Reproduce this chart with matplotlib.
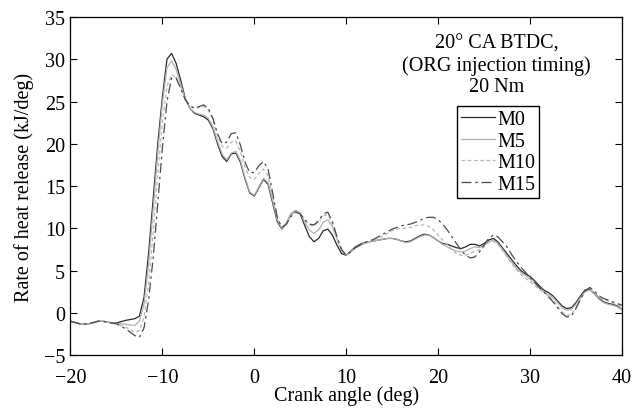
import numpy as np
import matplotlib
matplotlib.use('Agg')
import matplotlib.pyplot as plt

# Crank angle grid (deg), 0.5 deg step from -20 to 40
crank = np.arange(-20, 40.01, 0.5)

# Rate of heat release, kJ/deg
m0 = [-1.0, -1.15, -1.3, -1.35, -1.3, -1.15, -1.0, -1.0, -1.1, -1.2,
      -1.2, -1.05, -0.9, -0.8, -0.7, -0.4, 1.8, 7.0, 13.5, 20.0,
      25.5, 30.0, 30.7, 29.5, 27.5, 25.3, 24.2, 23.6, 23.4, 23.2,
      22.8, 21.8, 20.0, 18.5, 17.9, 18.8, 18.9, 17.8, 15.8, 14.2,
      13.8, 14.8, 15.8, 15.2, 13.0, 10.8, 9.9, 10.6, 11.7, 12.1,
      11.7, 10.3, 9.0, 8.4, 8.8, 9.7, 9.9, 9.2, 8.0, 7.0,
      6.8, 7.3, 7.8, 8.1, 8.3, 8.4, 8.5, 8.6, 8.7, 8.8,
      8.8, 8.7, 8.5, 8.4, 8.5, 8.8, 9.1, 9.3, 9.2, 8.9,
      8.5, 8.2, 8.1, 7.9, 7.7, 7.6, 7.8, 8.1, 8.1, 7.9,
      8.2, 8.6, 8.8, 8.4, 7.7, 7.0, 6.3, 5.6, 5.0, 4.6,
      4.3, 3.8, 3.2, 2.7, 2.4, 2.0, 1.4, 0.8, 0.5, 0.6,
      1.2, 2.0, 2.7, 2.8, 2.3, 1.7, 1.3, 1.1, 1.0, 0.8,
      0.4]

m5 = [-1.0, -1.15, -1.3, -1.35, -1.3, -1.15, -1.0, -1.0, -1.1, -1.2,
      -1.25, -1.3, -1.35, -1.45, -1.5, -1.0, 1.0, 5.8, 12.3, 19.0,
      24.8, 29.0, 29.8, 28.8, 27.0, 25.2, 24.2, 23.7, 23.5, 23.4,
      23.0, 22.0, 20.3, 18.8, 18.1, 18.9, 19.1, 18.0, 16.0, 14.3,
      13.9, 14.9, 15.9, 15.4, 13.3, 11.0, 10.0, 10.6, 11.7, 12.1,
      11.8, 10.7, 9.8, 9.4, 9.8, 10.7, 11.0, 10.2, 8.7, 7.3,
      6.8, 7.2, 7.7, 8.0, 8.2, 8.4, 8.5, 8.6, 8.7, 8.8,
      8.8, 8.7, 8.5, 8.3, 8.4, 8.7, 9.0, 9.2, 9.2, 8.9,
      8.5, 8.1, 7.8, 7.5, 7.3, 7.2, 7.3, 7.6, 7.8, 7.7,
      8.0, 8.4, 8.6, 8.2, 7.5, 6.7, 6.0, 5.3, 4.8, 4.4,
      4.0, 3.5, 3.0, 2.5, 2.1, 1.8, 1.2, 0.6, 0.3, 0.4,
      1.0, 1.8, 2.5, 2.7, 2.2, 1.6, 1.2, 1.0, 0.9, 0.7,
      0.4]

m10 = [-1.0, -1.15, -1.3, -1.35, -1.3, -1.15, -1.0, -1.0, -1.1, -1.2,
       -1.3, -1.5, -1.7, -2.0, -2.3, -2.1, -0.5, 3.5, 9.5, 16.5,
       22.5, 26.8, 28.2, 27.8, 26.6, 25.3, 24.5, 24.2, 24.3, 24.4,
       24.0, 22.8, 21.0, 19.7, 19.5, 20.2, 20.3, 19.0, 17.2, 16.0,
       15.8, 16.5, 17.0, 16.2, 13.8, 11.2, 10.0, 10.5, 11.5, 12.0,
       11.8, 11.0, 10.4, 10.3, 10.8, 11.5, 11.6, 10.5, 8.8, 7.4,
       6.8, 7.2, 7.7, 8.0, 8.2, 8.4, 8.6, 8.8, 9.1, 9.4,
       9.7, 9.9, 10.0, 10.0, 10.1, 10.3, 10.4, 10.4, 10.2, 9.8,
       9.2, 8.6, 8.0, 7.5, 7.0, 6.8, 6.8, 7.0, 7.3, 7.4,
       7.8, 8.3, 8.5, 8.1, 7.4, 6.6, 5.8, 5.1, 4.6, 4.1,
       3.7, 3.2, 2.8, 2.4, 2.0, 1.5, 0.8, 0.1, -0.3, -0.2,
       0.6, 1.6, 2.5, 2.8, 2.4, 1.9, 1.6, 1.4, 1.2, 1.0,
       0.7]

m15 = [-1.0, -1.15, -1.3, -1.35, -1.3, -1.15, -1.0, -1.0, -1.1, -1.2,
       -1.3, -1.6, -1.9, -2.3, -2.7, -2.9, -1.8, 1.5, 6.5, 13.0,
       19.5, 25.0, 27.8, 27.8, 26.5, 25.2, 24.5, 24.2, 24.4, 24.6,
       24.2, 23.0, 21.2, 20.0, 20.2, 21.2, 21.3, 19.8, 17.8, 16.6,
       16.6, 17.4, 17.9, 17.0, 14.2, 11.3, 10.1, 10.5, 11.4, 11.9,
       11.7, 11.0, 10.5, 10.4, 10.9, 11.7, 11.9, 10.8, 9.0, 7.5,
       6.8, 7.2, 7.7, 8.0, 8.3, 8.5, 8.7, 9.0, 9.3, 9.6,
       9.9, 10.1, 10.3, 10.4, 10.5, 10.7, 10.9, 11.2, 11.3, 11.3,
       11.0, 10.5, 9.8, 9.0, 8.2, 7.4, 6.8, 6.5, 6.6, 7.2,
       8.0, 8.8, 9.2, 9.0, 8.4, 7.8, 6.9, 6.1, 5.4, 4.8,
       4.2, 3.6, 3.0, 2.5, 1.9, 1.3, 0.6, -0.1, -0.5, -0.4,
       0.5, 1.6, 2.6, 3.0, 2.6, 2.0, 1.7, 1.5, 1.3, 1.1,
       0.9]

plt.rcParams['font.family'] = ['Liberation Serif', 'DejaVu Serif']
plt.rcParams['font.size'] = 14.5

fig = plt.figure(figsize=(6.32, 4.14), dpi=100)
ax = fig.add_axes([0.1115, 0.14, 0.8725, 0.8165])

ax.plot(crank, m0, color='#2a2a2a', lw=0.9, label='M0')
ax.plot(crank, m5, color='#b0b0b0', lw=0.9, label='M5')
ax.plot(crank, m10, color='#b8b8b8', lw=0.9, dashes=(3, 2), label='M10')
ax.plot(crank, m15, color='#4a4a4a', lw=0.9, dashes=(8, 3, 2, 3), label='M15')

ax.axis([-20, 40, -5, 35])
ax.set_xticks(np.arange(-20, 41, 10))
ax.set_yticks(np.arange(-5, 36, 5))
ax.tick_params(direction='in', top=True, right=True, length=5, width=0.8,
               labelsize=14.5)
ax.tick_params(axis='x', pad=9)
ax.tick_params(axis='y', pad=4)
for s in ax.spines.values():
    s.set_linewidth(0.9)

ax.set_xlabel('Crank angle (deg)', fontsize=14.5, labelpad=-1)
ax.set_ylabel('Rate of heat release (kJ/deg)', fontsize=14.5, labelpad=7)

fig.text(0.786, 0.893, '20\u00b0 CA BTDC,', ha='center', va='center', fontsize=14.5)
fig.text(0.786, 0.840, '(ORG injection timing)', ha='center', va='center', fontsize=14.5)
fig.text(0.786, 0.789, '20 Nm', ha='center', va='center', fontsize=14.5)

leg = ax.legend(loc='upper left', bbox_to_anchor=(0.723, 0.7415),
                bbox_transform=fig.transFigure, fancybox=False,
                edgecolor='black', framealpha=1, fontsize=14.5,
                handlelength=1.7, handletextpad=0.1, labelspacing=0.12,
                borderpad=0.2, borderaxespad=0)
leg.get_frame().set_linewidth(1.0)

fig.savefig('out.png', dpi=100)
